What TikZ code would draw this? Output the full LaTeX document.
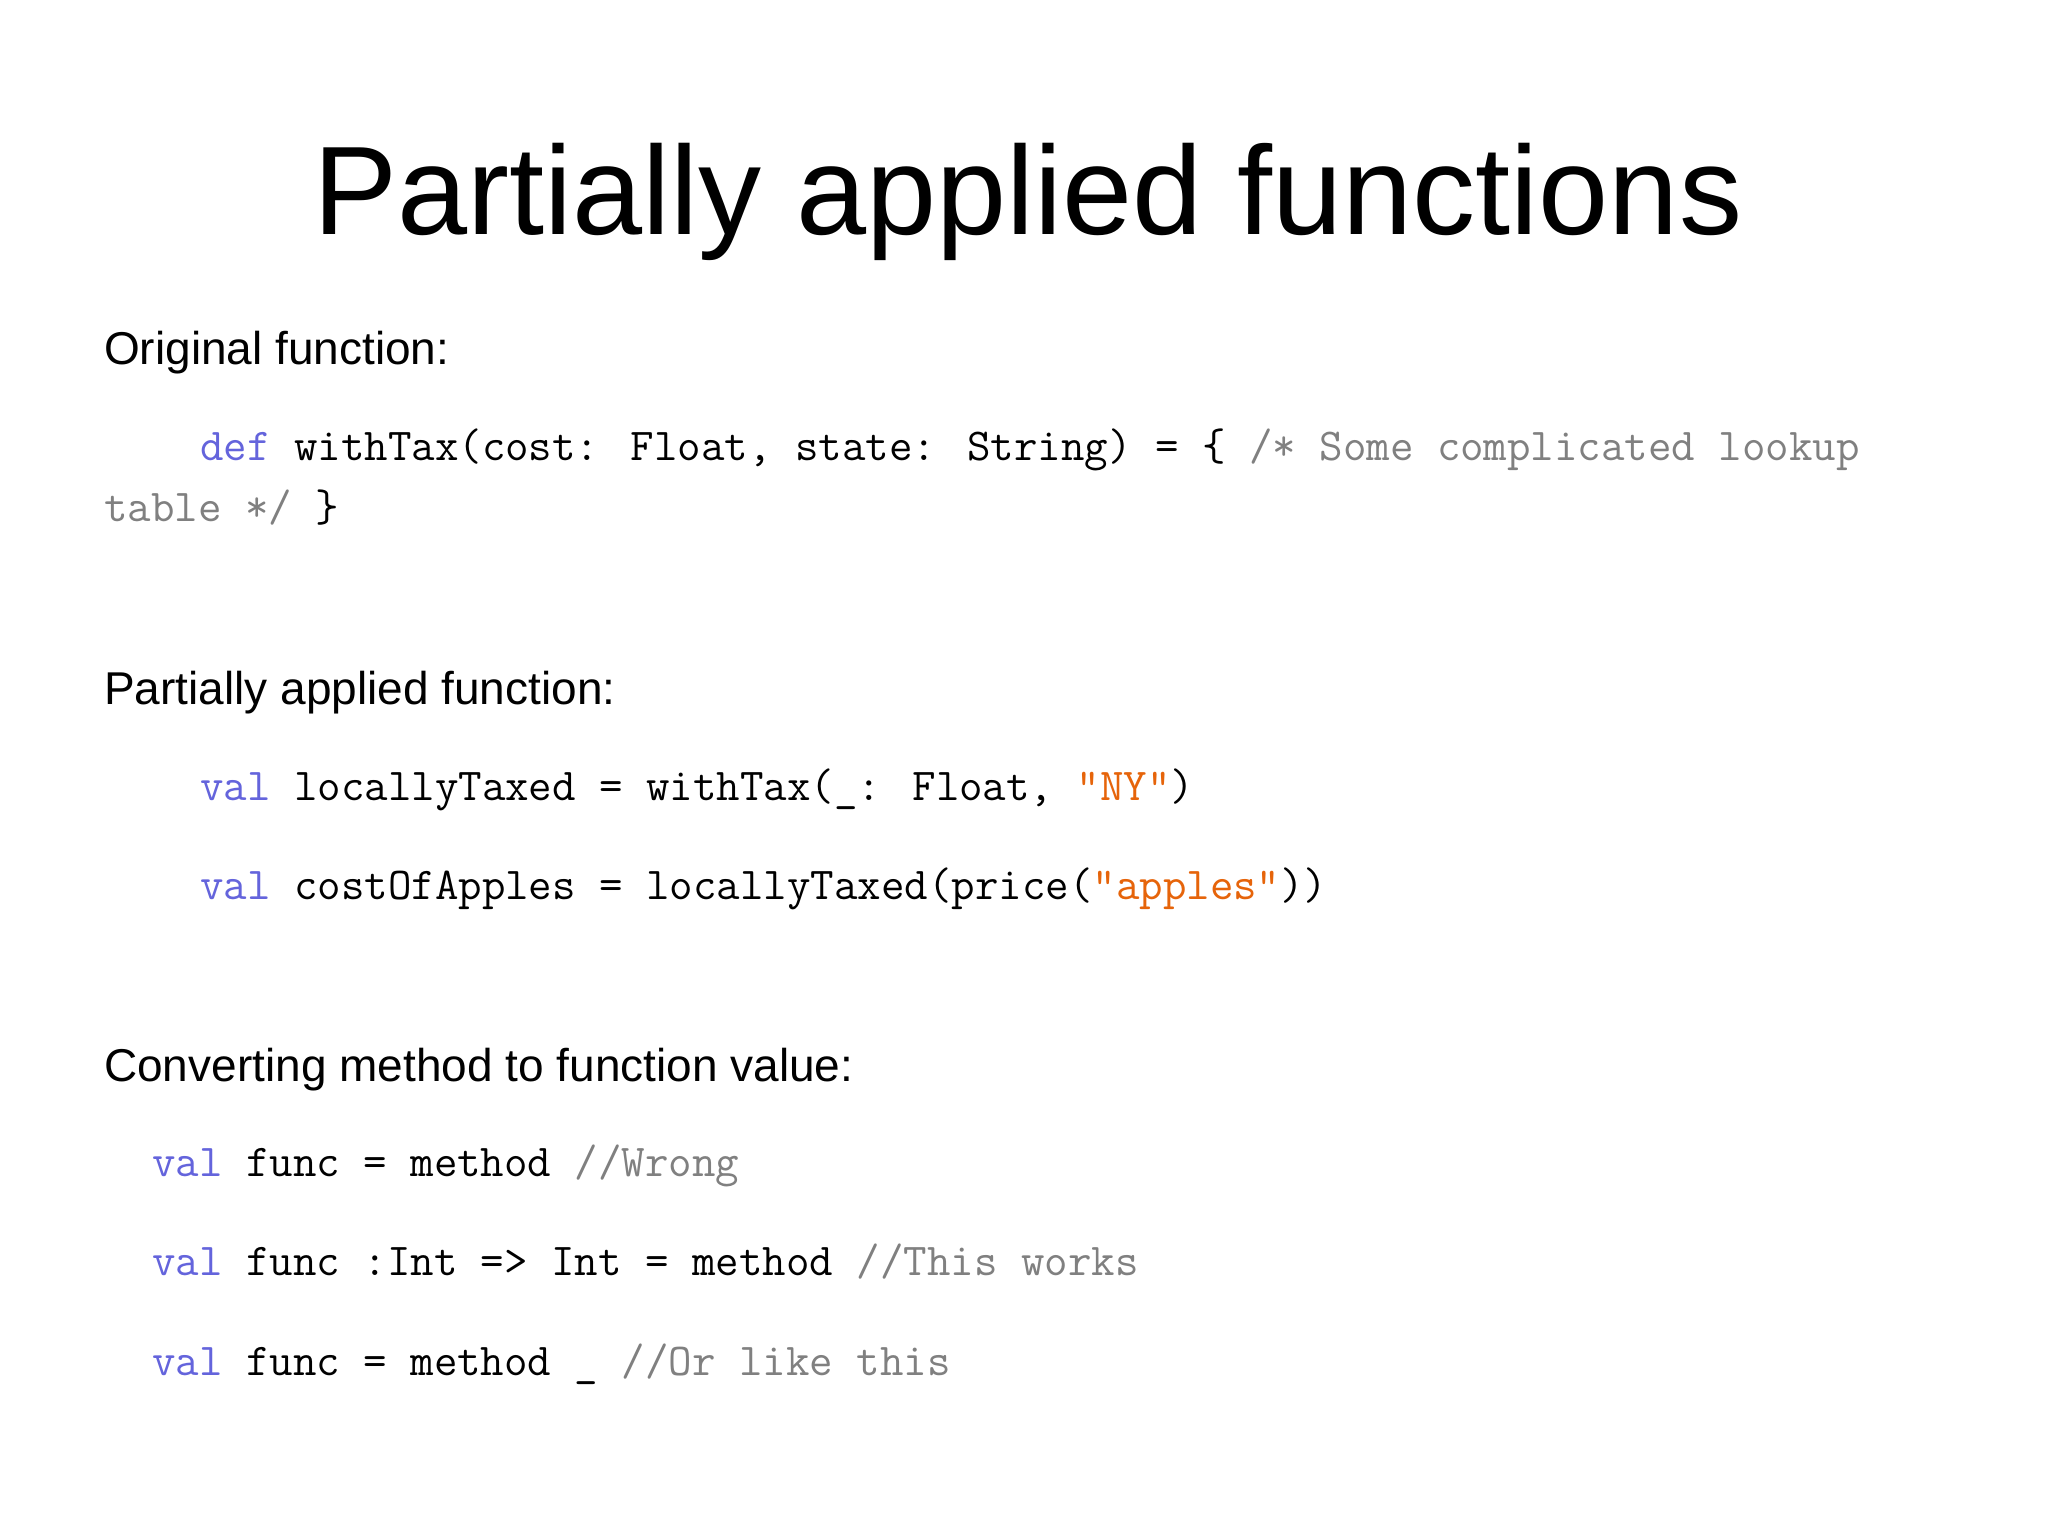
\documentclass[tikz,border=0pt]{standalone}
\usepackage{fontspec}
\setmainfont{Liberation Sans}
\definecolor{kw}{RGB}{100,100,220}
\definecolor{str}{RGB}{230,100,10}
\definecolor{cm}{RGB}{128,128,128}
\newcommand{\K}[1]{\textcolor{kw}{#1}}
\newcommand{\St}[1]{\textcolor{str}{#1}}
\newcommand{\Cm}[1]{\textcolor{cm}{#1}}
\begin{document}
\begin{tikzpicture}[x=1pt,y=-1pt,
  head/.style={anchor=base west,inner sep=0pt,font=\fontsize{46}{52}\selectfont},
  code/.style={anchor=base west,inner sep=0pt,font=\fontsize{45.6}{52}\selectfont\ttfamily}]
\useasboundingbox[fill=white] (0,0) rectangle (2048,1535);
\node[anchor=base,inner sep=0pt,font=\fontsize{126}{140}\selectfont] (title) at (1028,234) {Partially applied functions};
\node[head] (h1) at (104,364) {Original function:};
\node[code] (c1) at (200,460) {\K{def} withTax(cost: Float, state: String) = \{ \Cm{/* Some complicated lookup}};
\node[code] (c2) at (104,521) {\Cm{table */} \}};
\node[head] (h2) at (104,704) {Partially applied function:};
\node[code] (c3) at (200,800) {\K{val} locallyTaxed = withTax(\_: Float, \St{"NY"})};
\node[code] (c4) at (200,899) {\K{val} costOfApples = locallyTaxed(price(\St{"apples"}))};
\node[head] (h3) at (104,1081) {Converting method to function value:};
\node[code] (c5) at (152,1176) {\K{val} func = method \Cm{//Wrong}};
\node[code] (c6) at (152,1275) {\K{val} func :Int => Int = method \Cm{//This works}};
\node[code] (c7) at (152,1375) {\K{val} func = method \_ \Cm{//Or like this}};
\end{tikzpicture}
\end{document}
